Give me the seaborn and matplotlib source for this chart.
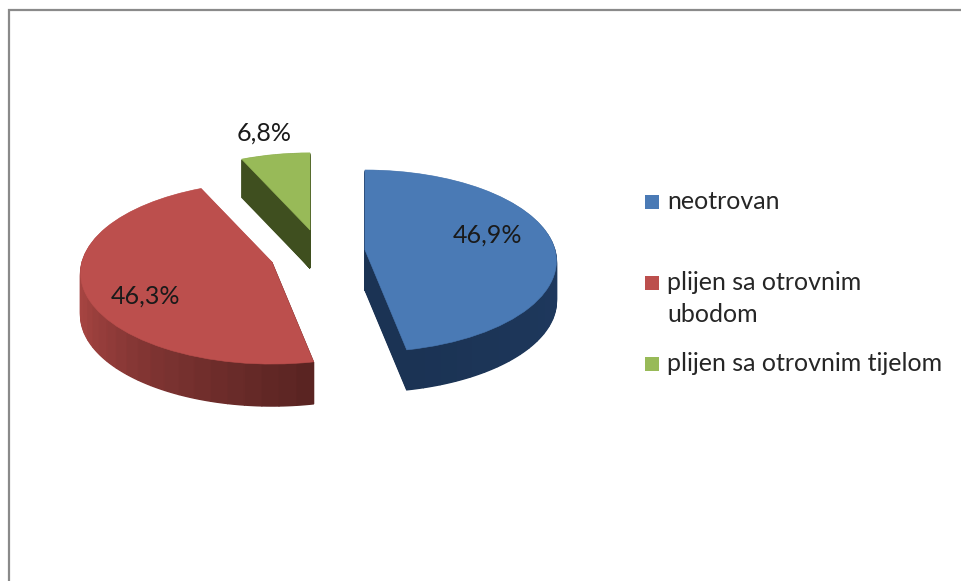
import numpy as np
import seaborn as sns
import matplotlib.pyplot as plt
from matplotlib.lines import Line2D
from matplotlib.patches import Rectangle
from matplotlib.transforms import Transform

# data
categories = ['neotrovan', 'plijen sa otrovnim\nubodom', 'plijen sa otrovnim tijelom']
shares = [46.9, 46.3, 6.8]
share_labels = ['46,9%', '46,3%', '6,8%']

# top face colour and the shades of the side wall, clockwise along each slice
top_colors = ['#4a7ab5', '#bc4f4d', '#98ba58']
wall_colors = [['#25426b', '#1f3a60', '#1b3354'],
               ['#5a2422', '#7c3331', '#a54441', '#a94744', '#a94744'],
               ['#3f4f1f', '#3f4f1f']]

W, H = 962, 581
RX, RY, TILT = 190, 89.7, 0.121   # size of the pie on screen and how much it leans back

# where things sit, in pixels of the picture
slice_apex = [(365, 250), (272, 262), (310, 230)]
slice_radius = [1.0, 1.0, 0.96]
slice_depth = [40, 42, 38]
label_pos = [(487, 235), (145, 296), (264, 133)]
legend_pos = [(652, 202), (652, 283), (652, 364)]

sns.set_theme(style='white')
plt.rcParams['font.family'] = ['Lato', 'DejaVu Sans']

fig = plt.figure(figsize=(W / 100, H / 100), dpi=100, facecolor='white')
ax = fig.add_axes([0, 0, 1, 1])


class Tilted(Transform):
    # perspective view of a flat unit pie, result is in pixels
    input_dims = output_dims = 2

    def __init__(self, cx, cy):
        super().__init__()
        self.cx, self.cy = cx, cy

    def transform_non_affine(self, values):
        xy = np.asarray(values)
        f = 1 / (1 + TILT * xy[:, 1])
        return np.column_stack([self.cx + RX * xy[:, 0] * f, self.cy - RY * xy[:, 1] * f])


def pie_layer(parts, cols, angle, cx, cy, radius, lw):
    wedges, _ = ax.pie(parts, colors=cols, startangle=angle, counterclock=False, radius=radius)
    for w in wedges:
        w.set_edgecolor(w.get_facecolor())
        w.set_linewidth(lw)
        w.set_transform(Tilted(cx, cy) + ax.transData)


def draw_slice(start, share, top, walls, apex, radius, depth):
    # the wall is the same slice stacked downward, cut in strips for the shading
    n = 36
    shades = sns.blend_palette(walls, n)
    parts = [share / n] * n + [100 - share]
    cols = list(shades) + ['none']
    angle = 90 - 3.6 * start
    cx, cy = apex
    for d in range(depth, 0, -1):
        pie_layer(parts, cols, angle, cx, cy + d, radius, 1.0)
    pie_layer([share, 100 - share], [top, 'none'], angle, cx, cy, radius, 0.4)


starts = np.cumsum([0] + shares[:-1])
for i in range(len(shares)):
    draw_slice(starts[i], shares[i], top_colors[i], wall_colors[i],
               slice_apex[i], slice_radius[i], slice_depth[i])

ax.set_aspect('auto')
ax.set_xlim(0, W)
ax.set_ylim(H, 0)
ax.axis('off')

for txt, (px, py) in zip(share_labels, label_pos):
    ax.text(px, py, txt, fontsize=18, color='#1a1a1a', ha='center', va='center')

# legend
for name, col, (px, py) in zip(categories, top_colors, legend_pos):
    fig.add_artist(Rectangle(((px - 7) / W, 1 - (py + 7) / H), 14 / W, 14 / H,
                             transform=fig.transFigure, facecolor=col, edgecolor='none'))
    ax.text(px + 15, py - 12, name, fontsize=18, color='#262626', ha='left', va='top',
            linespacing=1.5)

# grey outer frame, only top and left are inside the picture
fig.add_artist(Line2D([8.5 / W, 8.5 / W, 1], [0, 1 - 10 / H, 1 - 10 / H],
                      color='#8a8a8a', lw=1.6, solid_joinstyle='miter'))

fig.savefig('out.png', dpi=100)
